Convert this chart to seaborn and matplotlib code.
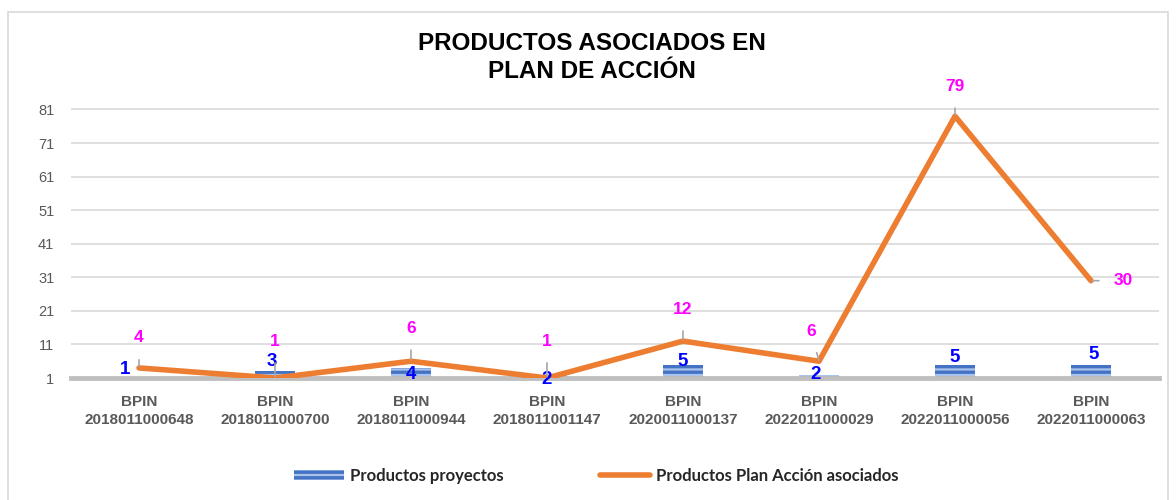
import numpy as np
import pandas as pd
import matplotlib
matplotlib.use("Agg")
import matplotlib.pyplot as plt
import seaborn as sns
from matplotlib.patches import Rectangle, Patch
from matplotlib.lines import Line2D

# Data
categorias = ["BPIN\n2018011000648", "BPIN\n2018011000700", "BPIN\n2018011000944",
              "BPIN\n2018011001147", "BPIN\n2020011000137", "BPIN\n2022011000029",
              "BPIN\n2022011000056", "BPIN\n2022011000063"]
productos_proyectos = [1, 3, 4, 2, 5, 2, 5, 5]
productos_plan = [4, 1, 6, 1, 12, 6, 79, 30]
y_ticks = [1, 11, 21, 31, 41, 51, 61, 71, 81]

# label offsets in pixels (bar labels, line labels)
bar_off = [(-14, 8), (-3, 10), (0, -7), (0, -5), (0, 3), (-3, 0), (0, 7), (3, 10)]
line_off = [(0, 30), (0, 37), (0, 33), (0, 37), (0, 32), (-8, 30), (0, 30), (32, 0)]

df = pd.DataFrame({"cat": categorias, "proy": productos_proyectos, "plan": productos_plan})

sns.set_style("white")
plt.rcParams["font.family"] = ["Liberation Sans", "DejaVu Sans"]
plt.rcParams["hatch.color"] = "#A9C4EB"
plt.rcParams["hatch.linewidth"] = 1.6

fig = plt.figure(figsize=(11.76, 5), dpi=100)
ax = fig.add_axes([71 / 1176, 1 - 378 / 500, (1159 - 71) / 1176, (378 - 86) / 500])

# border of chart area
fig.patches.append(Rectangle((8 / 1176, -0.01), 1160 / 1176, 1 - 12 / 500 + 0.01,
                             transform=fig.transFigure, fill=False,
                             edgecolor="#D9D9D9", linewidth=1.2))

sns.barplot(data=df, x="cat", y="proy", color="#4472C4", width=0.3,
            saturation=1, ax=ax, zorder=2)
for p in ax.patches:
    p.set_hatch("---")
    p.set_edgecolor("#A9C4EB")
    p.set_linewidth(0)

x = np.arange(len(categorias))
sns.lineplot(x=x, y=productos_plan, color="#ED7D31", linewidth=4, ax=ax,
             zorder=3, solid_capstyle="round")

ax.set_ylim(1, 88)
ax.set_xlim(-0.5, len(categorias) - 0.5)
ax.set_yticks(y_ticks)
ax.set_yticklabels([str(t) for t in y_ticks], color="#595959", fontsize=10.5)
ax.set_xticks(x)
ax.set_xticklabels(categorias, color="#595959", fontsize=11, fontweight="bold",
                   linespacing=1.4)
ax.tick_params(axis="both", length=0)
ax.tick_params(axis="x", pad=12)
ax.tick_params(axis="y", pad=12)
ax.set_xlabel("")
ax.set_ylabel("")
for t in y_ticks[1:]:
    ax.axhline(t, color="#D9D9D9", linewidth=1.2, zorder=0)
for s in ["top", "right", "left"]:
    ax.spines[s].set_visible(False)
ax.spines["bottom"].set_color("#BFBFBF")
ax.spines["bottom"].set_linewidth(3.5)
ax.spines["bottom"].set_zorder(2.5)

# data labels
for i, v in enumerate(productos_proyectos):
    ax.annotate(str(v), (x[i], v), xytext=bar_off[i], textcoords="offset pixels",
                ha="center", va="center", color="#0000FF", fontsize=13.5,
                fontweight="bold", zorder=5, annotation_clip=False)
for i, v in enumerate(productos_plan):
    ax.annotate(str(v), (x[i], v), xytext=line_off[i], textcoords="offset pixels",
                ha="center", va="center", color="#FF00FF", fontsize=12.5,
                fontweight="bold", zorder=5, annotation_clip=False,
                arrowprops=dict(arrowstyle="-", color="#A6A6A6", linewidth=1.2,
                                shrinkA=8, shrinkB=1))

fig.text(0.503, 0.885, "PRODUCTOS ASOCIADOS EN\nPLAN DE ACCIÓN", ha="center",
         va="center", fontsize=17.5, fontweight="bold", color="black", linespacing=1.3)

handles = [Patch(facecolor="#4472C4", edgecolor="#A9C4EB", hatch="---", linewidth=0),
           Line2D([0], [0], color="#ED7D31", linewidth=4, solid_capstyle="round")]
fig.legend(handles, ["Productos proyectos", "Productos Plan Acción asociados"],
           loc="center", bbox_to_anchor=(0.507, 0.048), ncol=2, frameon=False,
           prop={"family": "Lato", "weight": "bold", "size": 12},
           handlelength=3.0, handleheight=0.6, columnspacing=5.8, handletextpad=0.35)

fig.savefig("out.png", dpi=100)
